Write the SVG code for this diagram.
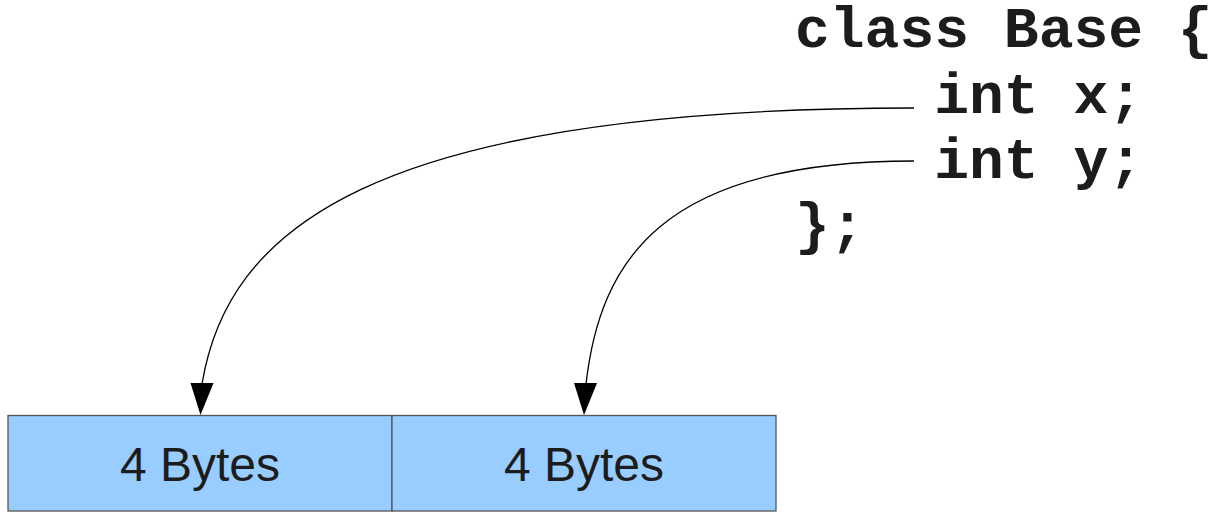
<svg xmlns="http://www.w3.org/2000/svg" width="1218" height="512" viewBox="0 0 1218 512">
<style>
.code{font-family:"Liberation Mono","Courier New",monospace;font-weight:bold;font-size:58px;fill:#1c1c1c;white-space:pre}
.cell{fill:#99ccff;stroke:#555555;stroke-width:1.3}
.lbl{font-family:"Liberation Sans",Arial,sans-serif;font-size:48px;fill:#1c1c1c;text-anchor:middle}
.conn{fill:none;stroke:#000000;stroke-width:1.3}
.head{fill:#000000}
</style>
<rect width="1218" height="512" fill="#ffffff"/>
<g id="code">
<text class="code" x="795" y="47">class Base {</text>
<text class="code" x="795" y="113" xml:space="preserve">    int x;</text>
<text class="code" x="795" y="178" xml:space="preserve">    int y;</text>
<text class="code" x="795" y="243">};</text>
</g>
<g id="cell1">
<rect class="cell" x="8" y="415.5" width="384" height="95.5"/>
<text class="lbl" x="200" y="481">4 Bytes</text>
</g>
<g id="cell2">
<rect class="cell" x="392" y="415.5" width="384" height="95.5"/>
<text class="lbl" x="584" y="481">4 Bytes</text>
</g>
<g id="connectors">
<path class="conn" d="M914,108 C364,108 227,233 202,384"/>
<polygon class="head" points="190.5,383 213.5,383 200.5,415"/>
<path class="conn" d="M914,161 C660,161 600,262 586,384"/>
<polygon class="head" points="574,383 597,383 584,415"/>
</g>
</svg>
